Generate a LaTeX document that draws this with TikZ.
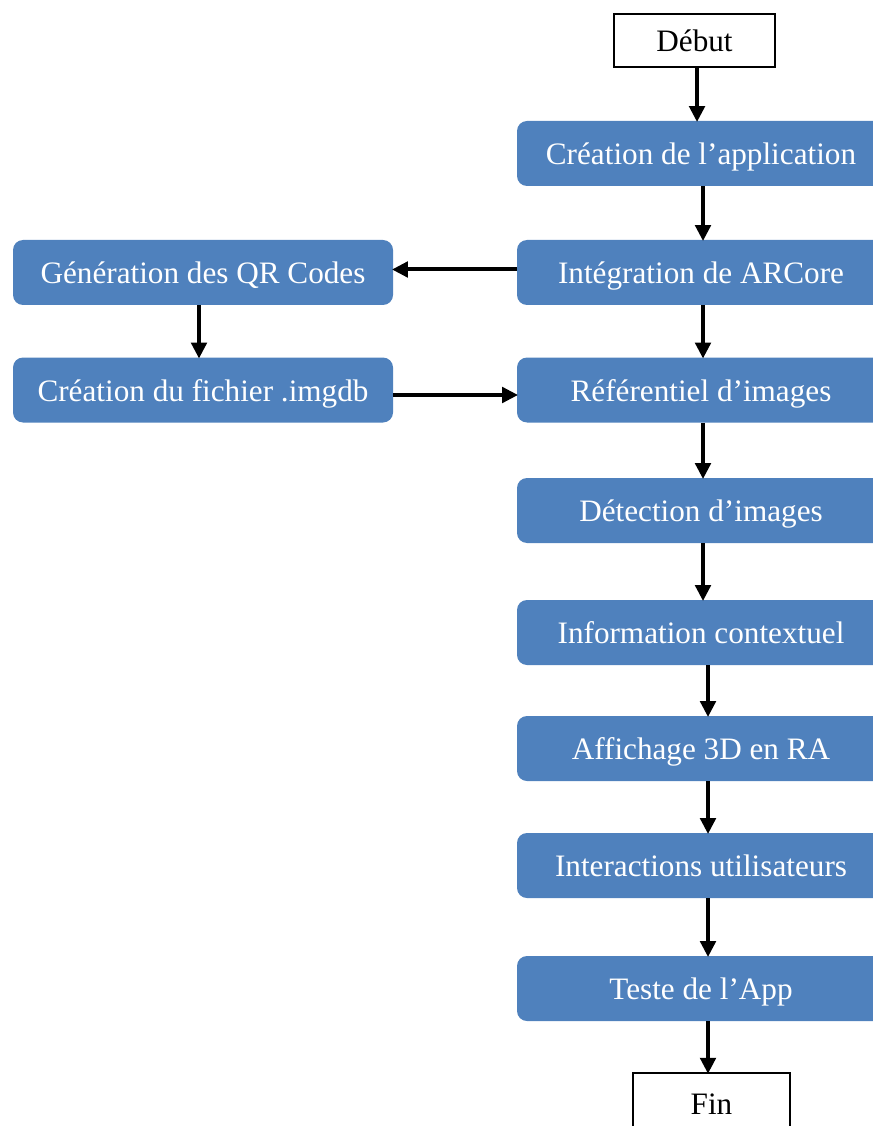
\documentclass[tikz,border=0pt]{standalone}
\usepackage{fontspec}
\setmainfont{Liberation Serif}
\usetikzlibrary{arrows.meta,calc}
\definecolor{boxblue}{HTML}{4F81BD}
\tikzset{
  boxtext/.style={font=\fontsize{23.4}{28}\selectfont, text height=18.6pt, text depth=1.4pt},
  bluebox/.style={rectangle, rounded corners=7.5pt, fill=boxblue, text=white,
    minimum width=276pt, minimum height=48.75pt, inner sep=0pt, boxtext},
  leftbox/.style={bluebox, minimum width=285pt},
  termbox/.style={rectangle, draw=black, line width=0.8pt, fill=white, inner sep=0pt, boxtext},
  arr/.style={line width=3pt, -{Triangle[length=12pt,width=11.5pt]}, shorten >=-1pt}
}
\begin{document}
\begin{tikzpicture}[x=0.75pt,y=-0.75pt]
\useasboundingbox (0,0) rectangle (872,1126);
\node[termbox, minimum width=120.75pt, minimum height=39.75pt] (deb) at (694.5,40.5) {Début};
\node[bluebox] (crea) at (701,153.5) {Création de l’application};
\node[bluebox] (integ) at (701,272.5) {Intégration de ARCore};
\node[leftbox] (qr) at (203,272.5) {Génération des QR Codes};
\node[leftbox] (imgdb) at (203,390) {Création du fichier .imgdb};
\node[bluebox] (ref) at (701,390) {Référentiel d’images};
\node[bluebox] (det) at (701,510.5) {Détection d’images};
\node[bluebox] (info) at (701,632.5) {Information contextuel};
\node[bluebox] (aff) at (701,748.5) {Affichage 3D en RA};
\node[bluebox] (inter) at (701,865.5) {Interactions utilisateurs};
\node[bluebox] (teste) at (701,988.5) {Teste de l’App};
\node[termbox, minimum width=117.75pt, minimum height=45pt] (fin) at (711.5,1103) {Fin};

\draw[arr] ([xshift=1.9pt]deb.south) -- ([xshift=1.9pt]deb.south |- crea.north);
\draw[arr] ([xshift=1.5pt]crea.south) -- ([xshift=1.5pt]crea.south |- integ.north);
\draw[arr] ([yshift=2.25pt]integ.west) -- ([yshift=2.25pt]qr.east);
\draw[arr] ([xshift=-3pt]qr.south) -- ([xshift=-3pt]qr.south |- imgdb.north);
\draw[arr] ([yshift=-3.75pt]imgdb.east) -- ([yshift=-3.75pt]ref.west);
\draw[arr] ([xshift=1.5pt]integ.south) -- ([xshift=1.5pt]integ.south |- ref.north);
\draw[arr] ([xshift=1.5pt]ref.south) -- ([xshift=1.5pt]ref.south |- det.north);
\draw[arr] ([xshift=1.5pt]det.south) -- ([xshift=1.5pt]det.south |- info.north);
\draw[arr] ([xshift=5.25pt]info.south) -- ([xshift=5.25pt]info.south |- aff.north);
\draw[arr] ([xshift=5.25pt]aff.south) -- ([xshift=5.25pt]aff.south |- inter.north);
\draw[arr] ([xshift=5.25pt]inter.south) -- ([xshift=5.25pt]inter.south |- teste.north);
\draw[arr] ([xshift=5.25pt]teste.south) -- ([xshift=5.25pt]teste.south |- fin.north);
\end{tikzpicture}
\end{document}
